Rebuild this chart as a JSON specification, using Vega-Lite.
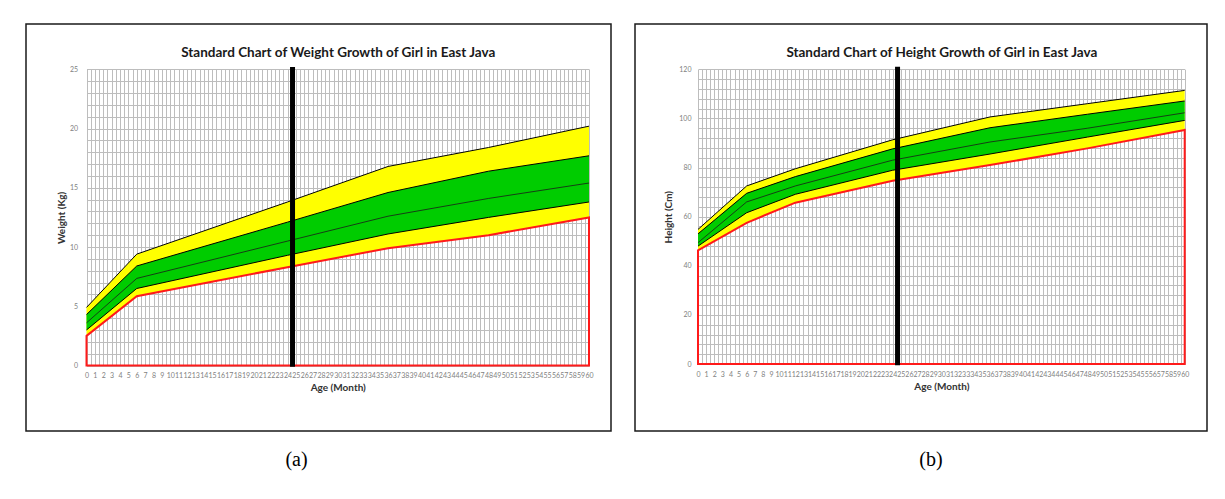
{
  "$schema": "https://vega.github.io/schema/vega-lite/v6.json",
  "padding": {"left": 25, "top": 23, "right": 0, "bottom": 0},
  "background": "white",
  "config": {
    "view": {"stroke": "#1a1a1a", "strokeWidth": 1.5},
    "font": "Lato"
  },
  "datasets": {
    "weight": [
      {"month": 0, "minus3": 2.5, "minus2": 3.0, "median": 3.6, "plus2": 4.3, "plus3": 4.9},
      {"month": 6, "minus3": 5.85, "minus2": 6.5, "median": 7.35, "plus2": 8.4, "plus3": 9.4},
      {"month": 24, "minus3": 8.3, "minus2": 9.3, "median": 10.5, "plus2": 12.1, "plus3": 13.8},
      {"month": 36, "minus3": 9.9, "minus2": 11.1, "median": 12.6, "plus2": 14.6, "plus3": 16.8},
      {"month": 48, "minus3": 11.0, "minus2": 12.5, "median": 14.1, "plus2": 16.4, "plus3": 18.4},
      {"month": 60, "minus3": 12.5, "minus2": 13.8, "median": 15.4, "plus2": 17.7, "plus3": 20.2}
    ],
    "height": [
      {"month": 0, "minus3": 46.3, "minus2": 48.0, "median": 49.4, "plus2": 53.0, "plus3": 54.8},
      {"month": 6, "minus3": 57.5, "minus2": 61.6, "median": 66.0, "plus2": 69.5, "plus3": 72.5},
      {"month": 12, "minus3": 65.7, "minus2": 69.1, "median": 72.5, "plus2": 76.3, "plus3": 79.5},
      {"month": 24, "minus3": 74.6, "minus2": 78.9, "median": 83.0, "plus2": 87.6, "plus3": 91.3},
      {"month": 36, "minus3": 81.0, "minus2": 85.5, "median": 90.4, "plus2": 96.2, "plus3": 100.6},
      {"month": 48, "minus3": 87.8, "minus2": 92.4, "median": 96.0, "plus2": 101.7, "plus3": 106.0},
      {"month": 60, "minus3": 95.3, "minus2": 99.2, "median": 102.3, "plus2": 107.1, "plus3": 111.4}
    ],
    "marker": [{"month": 24.6}]
  },
  "spacing": 22,
  "hconcat": [
    {
      "width": 585,
      "height": 407,
      "title": {"text": "(a)", "orient": "bottom", "offset": 19, "dx": -22, "font": "Liberation Serif", "fontSize": 20, "fontWeight": "normal", "color": "#000000"},
      "resolve": {"axis": {"x": "independent", "y": "independent"}},
      "layer": [
        {
          "data": {"name": "weight"},
          "mark": {"type": "area", "color": "#ffff00", "opacity": 1},
          "encoding": {
            "x": {"field": "month", "type": "quantitative",
              "scale": {"domain": [0, 60], "range": [60.5, 563], "nice": false, "zero": false},
              "axis": {"orient": "bottom", "offset": -65.5, "values": [0,1,2,3,4,5,6,7,8,9,10,11,12,13,14,15,16,17,18,19,20,21,22,23,24,25,26,27,28,29,30,31,32,33,34,35,36,37,38,39,40,41,42,43,44,45,46,47,48,49,50,51,52,53,54,55,56,57,58,59,60],
                "grid": false, "ticks": false, "domain": false, "format": "d",
                "labelFont": "Lato", "labelFontSize": 7, "labelColor": "#7f7f7f", "labelPadding": 6,
                "labelOverlap": false, "labelBound": false, "labelFlush": false,
                "title": "Age (Month)", "titleFont": "Lato", "titleFontSize": 10, "titleFontWeight": "bold", "titleColor": "#333333", "titlePadding": 4}},
            "y": {"field": "minus3", "type": "quantitative", "stack": null,
              "scale": {"domain": [0, 25], "range": [341.5, 45.3], "nice": false, "zero": false},
              "axis": {"orient": "left", "offset": -60.5, "values": [0,1,2,3,4,5,6,7,8,9,10,11,12,13,14,15,16,17,18,19,20,21,22,23,24,25],
                "grid": true, "gridColor": "#bdbdbd", "gridWidth": 1, "ticks": false, "domain": false,
                "labelExpr": "datum.value % 5 === 0 ? datum.label : ''",
                "labelFont": "Lato", "labelFontSize": 7, "labelColor": "#7f7f7f", "labelPadding": 9,
                "title": "Weight (Kg)", "titleFont": "Lato", "titleFontSize": 10, "titleFontWeight": "bold", "titleColor": "#333333", "titlePadding": 3}},
            "y2": {"field": "plus3"}
          }
        },
        {
          "data": {"name": "weight"},
          "mark": {"type": "area", "color": "#00cc00", "opacity": 1},
          "encoding": {
            "x": {"field": "month", "type": "quantitative",
              "axis": {"orient": "top", "offset": -45.3, "values": [0,0.5,1,1.5,2,2.5,3,3.5,4,4.5,5,5.5,6,6.5,7,7.5,8,8.5,9,9.5,10,10.5,11,11.5,12,12.5,13,13.5,14,14.5,15,15.5,16,16.5,17,17.5,18,18.5,19,19.5,20,20.5,21,21.5,22,22.5,23,23.5,24,24.5,25,25.5,26,26.5,27,27.5,28,28.5,29,29.5,30,30.5,31,31.5,32,32.5,33,33.5,34,34.5,35,35.5,36,36.5,37,37.5,38,38.5,39,39.5,40,40.5,41,41.5,42,42.5,43,43.5,44,44.5,45,45.5,46,46.5,47,47.5,48,48.5,49,49.5,50,50.5,51,51.5,52,52.5,53,53.5,54,54.5,55,55.5,56,56.5,57,57.5,58,58.5,59,59.5,60],
                "grid": true, "gridColor": "#bdbdbd", "gridWidth": 1, "labels": false, "ticks": false, "domain": false,
                "title": "Standard  Chart of Weight Growth of Girl in East Java", "titleFont": "Lato", "titleFontSize": 13.5, "titleFontWeight": "bold", "titleColor": "#1a1a1a", "titlePadding": 10}},
            "y": {"field": "minus2", "type": "quantitative", "stack": null, "axis": null},
            "y2": {"field": "plus2"}
          }
        },
        {
          "data": {"name": "weight"},
          "mark": {"type": "line", "color": "#000000", "strokeWidth": 1},
          "encoding": {
            "x": {"field": "month", "type": "quantitative", "axis": null},
            "y": {"field": "minus2", "type": "quantitative", "axis": null}
          }
        },
        {
          "data": {"name": "weight"},
          "mark": {"type": "line", "color": "#1a1a1a", "strokeWidth": 0.8},
          "encoding": {
            "x": {"field": "month", "type": "quantitative", "axis": null},
            "y": {"field": "median", "type": "quantitative", "axis": null}
          }
        },
        {
          "data": {"name": "weight"},
          "mark": {"type": "line", "color": "#000000", "strokeWidth": 1},
          "encoding": {
            "x": {"field": "month", "type": "quantitative", "axis": null},
            "y": {"field": "plus2", "type": "quantitative", "axis": null}
          }
        },
        {
          "data": {"name": "weight"},
          "mark": {"type": "line", "color": "#000000", "strokeWidth": 1},
          "encoding": {
            "x": {"field": "month", "type": "quantitative", "axis": null},
            "y": {"field": "plus3", "type": "quantitative", "axis": null}
          }
        },
        {
          "data": {"name": "weight"},
          "mark": {"type": "area", "fillOpacity": 0, "stroke": "#ff1a1a", "strokeWidth": 2},
          "encoding": {
            "x": {"field": "month", "type": "quantitative", "axis": null},
            "y": {"field": "minus3", "type": "quantitative", "stack": null, "axis": null}
          }
        },
        {
          "data": {"name": "marker"},
          "mark": {"type": "rule", "color": "#000000", "strokeWidth": 5},
          "encoding": {
            "x": {"field": "month", "type": "quantitative", "axis": null},
            "y": {"datum": -0.1, "type": "quantitative", "axis": null},
            "y2": {"datum": 25.2}
          }
        }
      ]
    },
    {
      "width": 572,
      "height": 407,
      "title": {"text": "(b)", "orient": "bottom", "offset": 19, "dx": 10, "font": "Liberation Serif", "fontSize": 20, "fontWeight": "normal", "color": "#000000"},
      "resolve": {"axis": {"x": "independent", "y": "independent"}},
      "layer": [
        {
          "data": {"name": "height"},
          "mark": {"type": "area", "color": "#ffff00", "opacity": 1},
          "encoding": {
            "x": {"field": "month", "type": "quantitative",
              "scale": {"domain": [0, 60], "range": [63, 549.7], "nice": false, "zero": false},
              "axis": {"orient": "bottom", "offset": -67, "values": [0,1,2,3,4,5,6,7,8,9,10,11,12,13,14,15,16,17,18,19,20,21,22,23,24,25,26,27,28,29,30,31,32,33,34,35,36,37,38,39,40,41,42,43,44,45,46,47,48,49,50,51,52,53,54,55,56,57,58,59,60],
                "grid": false, "ticks": false, "domain": false, "format": "d",
                "labelFont": "Lato", "labelFontSize": 7, "labelColor": "#7f7f7f", "labelPadding": 6,
                "labelOverlap": false, "labelBound": false, "labelFlush": false,
                "title": "Age (Month)", "titleFont": "Lato", "titleFontSize": 10, "titleFontWeight": "bold", "titleColor": "#333333", "titlePadding": 4}},
            "y": {"field": "minus3", "type": "quantitative", "stack": null,
              "scale": {"domain": [0, 120], "range": [340, 45.3], "nice": false, "zero": false},
              "axis": {"orient": "left", "offset": -63, "values": [0,4,8,12,16,20,24,28,32,36,40,44,48,52,56,60,64,68,72,76,80,84,88,92,96,100,104,108,112,116,120],
                "grid": true, "gridColor": "#bdbdbd", "gridWidth": 1, "ticks": false, "domain": false,
                "labelExpr": "datum.value % 20 === 0 ? datum.label : ''",
                "labelFont": "Lato", "labelFontSize": 7, "labelColor": "#7f7f7f", "labelPadding": 7,
                "title": "Height (Cm)", "titleFont": "Lato", "titleFontSize": 10, "titleFontWeight": "bold", "titleColor": "#333333", "titlePadding": 5}},
            "y2": {"field": "plus3"}
          }
        },
        {
          "data": {"name": "height"},
          "mark": {"type": "area", "color": "#00cc00", "opacity": 1},
          "encoding": {
            "x": {"field": "month", "type": "quantitative",
              "axis": {"orient": "top", "offset": -45.3, "values": [0,0.5,1,1.5,2,2.5,3,3.5,4,4.5,5,5.5,6,6.5,7,7.5,8,8.5,9,9.5,10,10.5,11,11.5,12,12.5,13,13.5,14,14.5,15,15.5,16,16.5,17,17.5,18,18.5,19,19.5,20,20.5,21,21.5,22,22.5,23,23.5,24,24.5,25,25.5,26,26.5,27,27.5,28,28.5,29,29.5,30,30.5,31,31.5,32,32.5,33,33.5,34,34.5,35,35.5,36,36.5,37,37.5,38,38.5,39,39.5,40,40.5,41,41.5,42,42.5,43,43.5,44,44.5,45,45.5,46,46.5,47,47.5,48,48.5,49,49.5,50,50.5,51,51.5,52,52.5,53,53.5,54,54.5,55,55.5,56,56.5,57,57.5,58,58.5,59,59.5,60],
                "grid": true, "gridColor": "#bdbdbd", "gridWidth": 1, "labels": false, "ticks": false, "domain": false,
                "title": "Standard  Chart of Height Growth of Girl in East Java", "titleFont": "Lato", "titleFontSize": 13.5, "titleFontWeight": "bold", "titleColor": "#1a1a1a", "titlePadding": 10}},
            "y": {"field": "minus2", "type": "quantitative", "stack": null, "axis": null},
            "y2": {"field": "plus2"}
          }
        },
        {
          "data": {"name": "height"},
          "mark": {"type": "line", "color": "#000000", "strokeWidth": 1},
          "encoding": {
            "x": {"field": "month", "type": "quantitative", "axis": null},
            "y": {"field": "minus2", "type": "quantitative", "axis": null}
          }
        },
        {
          "data": {"name": "height"},
          "mark": {"type": "line", "color": "#1a1a1a", "strokeWidth": 0.8},
          "encoding": {
            "x": {"field": "month", "type": "quantitative", "axis": null},
            "y": {"field": "median", "type": "quantitative", "axis": null}
          }
        },
        {
          "data": {"name": "height"},
          "mark": {"type": "line", "color": "#000000", "strokeWidth": 1},
          "encoding": {
            "x": {"field": "month", "type": "quantitative", "axis": null},
            "y": {"field": "plus2", "type": "quantitative", "axis": null}
          }
        },
        {
          "data": {"name": "height"},
          "mark": {"type": "line", "color": "#000000", "strokeWidth": 1},
          "encoding": {
            "x": {"field": "month", "type": "quantitative", "axis": null},
            "y": {"field": "plus3", "type": "quantitative", "axis": null}
          }
        },
        {
          "data": {"name": "height"},
          "mark": {"type": "area", "fillOpacity": 0, "stroke": "#ff1a1a", "strokeWidth": 2},
          "encoding": {
            "x": {"field": "month", "type": "quantitative", "axis": null},
            "y": {"field": "minus3", "type": "quantitative", "stack": null, "axis": null}
          }
        },
        {
          "data": {"name": "marker"},
          "mark": {"type": "rule", "color": "#000000", "strokeWidth": 5},
          "encoding": {
            "x": {"field": "month", "type": "quantitative", "axis": null},
            "y": {"datum": -0.5, "type": "quantitative", "axis": null},
            "y2": {"datum": 121}
          }
        }
      ]
    }
  ]
}
